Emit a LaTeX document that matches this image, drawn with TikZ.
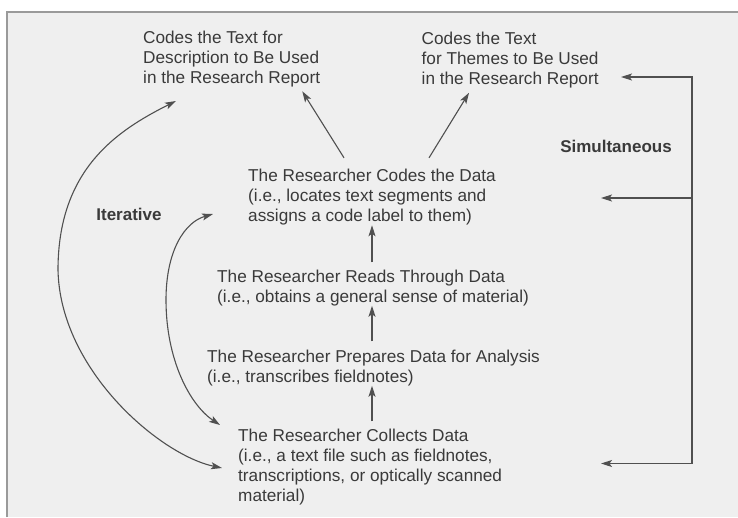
\documentclass[tikz,border=0pt]{standalone}
\usepackage{fontspec}
\setmainfont{Liberation Sans}
\usetikzlibrary{arrows.meta,calc}
\definecolor{panel}{HTML}{EFEFEF}
\definecolor{frameline}{HTML}{9A9A9A}
\definecolor{txt}{HTML}{3A3A3A}
\definecolor{ln}{HTML}{505050}
\tikzset{
  lbl/.style={anchor=base west, align=left, inner sep=0pt, text=txt, font=\fontsize{17.2}{20}\selectfont},
  boldlbl/.style={anchor=base, inner sep=0pt, text=txt, font=\fontsize{17}{20}\selectfont\bfseries},
  tip/.tip={Stealth[length=11pt,width=7pt,inset=2.5pt]},
  arr/.style={draw=ln, line width=1.1pt, -tip},
  arrboth/.style={draw=ln, line width=1.1pt, tip-tip},
}
\begin{document}
\begin{tikzpicture}[x=1pt,y=-1pt]
\useasboundingbox (0,0) rectangle (738,517);
\fill[white] (0,0) rectangle (738,517);
\fill[panel] (7,12) rectangle (738,517);
\draw[frameline, line width=2pt] (7,517) -- (7,12) -- (738,12);

% text blocks (base anchor = baseline of the last line)
\node[lbl] (t1) at (143,83.5) {Codes the Text for\\Description to Be Used\\in the Research Report};
\node[lbl] (t2) at (421.5,84) {Codes the Text\\for Themes to Be Used\\in the Research Report};
\node[lbl] (c1) at (248,221.5) {The Researcher Codes the Data\\(i.e., locates text segments and\\assigns a code label to them)};
\node[lbl] (r) at (217,302) {The Researcher Reads Through Data\\(i.e., obtains a general sense of material)};
\node[lbl] (p) at (207,382) {The Researcher Prepares Data for Analysis\\(i.e., transcribes fieldnotes)};
\node[lbl] (col) at (238,501) {The Researcher Collects Data\\(i.e., a text file such as fieldnotes,\\transcriptions, or optically scanned\\material)};
\node[boldlbl] (iter) at (129,220.5) {Iterative};
\node[boldlbl] (sim) at (616,152.5) {Simultaneous};

% arrows from coding to the two outputs
\draw[arr] ([shift={(-28pt,11pt)}]c1.north) -- ([shift={(-18pt,-4pt)}]t1.south east);
\draw[arr] ([shift={(57pt,11pt)}]c1.north) -- ([shift={(47.5pt,-5pt)}]t2.south west);

% vertical chain
\draw[arr, shorten <=7pt] (r.north -| c1.south) -- (c1.south);
\draw[arr, shorten <=8pt] (p.north -| c1.south) -- (r.south -| c1.south);
\draw[arr, shorten <=7pt] (col.north -| c1.south) -- (p.south -| c1.south);

% simultaneous bracket
\coordinate (simTop) at (692,77);
\coordinate (simTopTip) at (621,77);
\coordinate (simMid) at (692,198);
\coordinate (simMidTip) at (601,198);
\coordinate (simBot) at (692,463.5);
\coordinate (simBotTip) at (601,463.5);
\draw[arrboth] (simTopTip) -- (simTop) -- (simBot) -- (simBotTip);
\draw[arr] (simMid) -- (simMidTip);

% iterative curves
\coordinate (outTop) at (176,101);
\coordinate (outLeft) at (58,270);
\coordinate (outBot) at (222,468);
\draw[arrboth] (outTop) .. controls (116,131) and (58,170) .. (outLeft)
   .. controls (60,370) and (160,455) .. (outBot);
\coordinate (inTop) at (213,214);
\coordinate (inLeft) at (166,300);
\coordinate (inBot) at (220,425);
\draw[arrboth] (inTop) .. controls (185,222) and (166,250) .. (inLeft)
   .. controls (166,360) and (190,405) .. (inBot);
\end{tikzpicture}
\end{document}
